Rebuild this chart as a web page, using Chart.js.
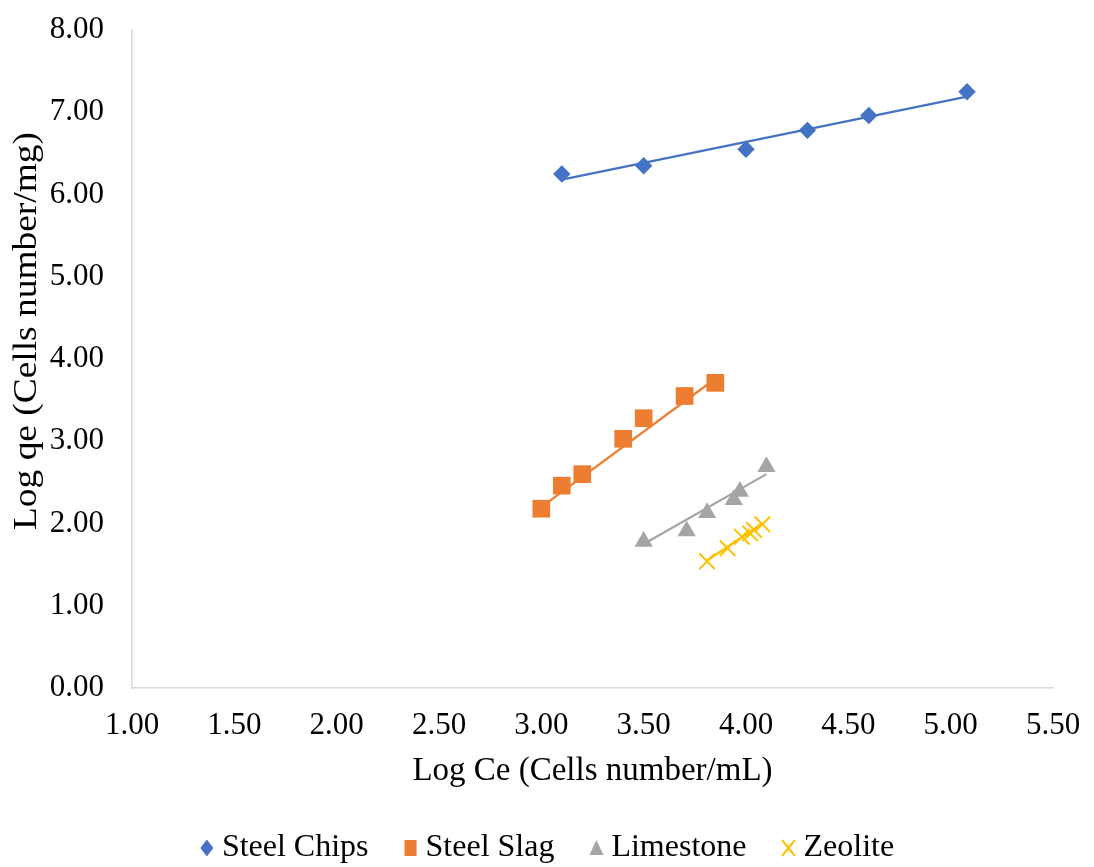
<!DOCTYPE html>
<html>
<head>
<meta charset="utf-8">
<script src="https://cdn.jsdelivr.net/npm/chart.js@4/dist/chart.umd.min.js"></script>
<style>
  html, body { margin: 0; padding: 0; background: #fff; }
  #wrap { width: 1094px; height: 867px; }
</style>
</head>
<body>
<div id="wrap"><canvas id="chart" width="1094" height="867"></canvas></div>
<script>
// Series (x = Log Ce, y = Log qe)
const chipsX = [3.10, 3.50, 4.00, 4.30, 4.60, 5.08];
const chipsY = [6.25, 6.35, 6.55, 6.78, 6.96, 7.25];

const slagX = [3.00, 3.10, 3.20, 3.40, 3.50, 3.70, 3.85];
const slagY = [2.18, 2.46, 2.60, 3.03, 3.28, 3.55, 3.71];

const limeX = [3.50, 3.71, 3.81, 3.94, 3.97, 4.10];
const limeY = [1.78, 1.91, 2.13, 2.29, 2.39, 2.69];

const zeoX = [3.81, 3.91, 3.98, 4.02, 4.04, 4.08];
const zeoY = [1.54, 1.70, 1.84, 1.88, 1.92, 1.99];

// Trendline end points as drawn in the picture
const chipsTrendX = [3.10, 5.08];
const chipsTrendY = [6.18, 7.19];
const slagTrendX = [3.00, 3.85];
const slagTrendY = [2.20, 3.76];
const limeTrendX = [3.50, 4.10];
const limeTrendY = [1.75, 2.60];
const zeoTrendX = [3.81, 4.08];
const zeoTrendY = [1.55, 2.00];

const seriesNames = ['Steel Chips', 'Steel Slag', 'Limestone', 'Zeolite'];
const colors = ['#4472C4', '#ED7D31', '#A5A5A5', '#FFC000'];
const styles = ['rectRot', 'rect', 'triangle', 'crossRot'];
const radii = [8.7, 12.5, 10.5, 11];

const xTitle = 'Log Ce (Cells number/mL)';
const yTitle = 'Log qe (Cells number/mg)';

const toPoints = (xs, ys) => xs.map((x, i) => ({ x, y: ys[i] }));

const font = 'Liberation Serif, Times New Roman, serif';

const markerSets = [
  toPoints(chipsX, chipsY),
  toPoints(slagX, slagY),
  toPoints(limeX, limeY),
  toPoints(zeoX, zeoY),
].map((pts, i) => ({
  label: seriesNames[i],
  data: pts,
  pointStyle: styles[i],
  pointRadius: radii[i],
  pointHoverRadius: radii[i],
  backgroundColor: colors[i],
  borderColor: colors[i],
  pointBorderWidth: styles[i] === 'crossRot' ? 2 : 0,
  showLine: false,
}));

const trendSets = [
  toPoints(chipsTrendX, chipsTrendY),
  toPoints(slagTrendX, slagTrendY),
  toPoints(limeTrendX, limeTrendY),
  toPoints(zeoTrendX, zeoTrendY),
].map((pts, i) => ({
  label: 'trend',
  data: pts,
  showLine: true,
  pointRadius: 0,
  borderColor: colors[i],
  borderWidth: 2.2,
  fill: false,
}));

// legend marker, slightly taller than wide like the original
function drawLegendMarker(ctx, style, color, x, y) {
  ctx.save();
  ctx.fillStyle = color;
  ctx.strokeStyle = color;
  ctx.beginPath();
  if (style === 'rectRot') {
    ctx.moveTo(x, y - 8.5);
    ctx.lineTo(x + 6.5, y);
    ctx.lineTo(x, y + 8.5);
    ctx.lineTo(x - 6.5, y);
    ctx.closePath();
    ctx.fill();
  } else if (style === 'rect') {
    ctx.rect(x - 6, y - 8, 12, 16);
    ctx.fill();
  } else if (style === 'triangle') {
    ctx.moveTo(x, y - 8);
    ctx.lineTo(x + 7, y + 7);
    ctx.lineTo(x - 7, y + 7);
    ctx.closePath();
    ctx.fill();
  } else {
    ctx.lineWidth = 2;
    ctx.moveTo(x - 6.5, y - 8);
    ctx.lineTo(x + 6.5, y + 8);
    ctx.moveTo(x + 6.5, y - 8);
    ctx.lineTo(x - 6.5, y + 8);
    ctx.stroke();
  }
  ctx.restore();
}

const extras = {
  id: 'extras',
  afterDraw(chart) {
    const ctx = chart.ctx;

    // y axis title, stretched a little along its length as in the original
    ctx.save();
    ctx.font = `33px ${font}`;
    ctx.fillStyle = '#000';
    ctx.textAlign = 'center';
    ctx.textBaseline = 'middle';
    const w = ctx.measureText(yTitle).width;
    ctx.translate(27.5, 331);
    ctx.rotate(-Math.PI / 2);
    ctx.scale(398 / w, 1);
    ctx.fillText(yTitle, 0, 0);
    ctx.restore();

    // legend along the bottom
    ctx.save();
    ctx.font = `32px ${font}`;
    ctx.fillStyle = '#000';
    ctx.textBaseline = 'middle';
    const markerToText = 15;
    const itemGap = 35;
    const widths = seriesNames.map((n) => ctx.measureText(n).width);
    const total = widths.reduce((a, b) => a + b, 0) + seriesNames.length * (7 + markerToText) + itemGap * (seriesNames.length - 1);
    let x = chart.width / 2 - total / 2;
    const y = 848;
    seriesNames.forEach((name, i) => {
      const cx = x + 7;
      drawLegendMarker(ctx, styles[i], colors[i], cx, y);
      ctx.fillText(name, cx + markerToText, y);
      x = cx + markerToText + widths[i] + itemGap;
    });
    ctx.restore();
  },
};

new Chart(document.getElementById('chart'), {
  type: 'scatter',
  data: { datasets: [...markerSets, ...trendSets] },
  plugins: [extras],
  options: {
    responsive: false,
    animation: false,
    layout: { padding: { top: 30, right: 41, left: 0, bottom: 71 } },
    plugins: {
      tooltip: { enabled: false },
      legend: { display: false },
    },
    scales: {
      x: {
        type: 'linear',
        min: 1,
        max: 5.5,
        afterFit: (scale) => {
          scale.height = 108;
          scale.paddingLeft = 0;
          scale.paddingRight = 0;
        },
        grid: { display: false, drawTicks: false },
        border: { display: true, color: '#d9d9d9', width: 1.5 },
        ticks: {
          stepSize: 0.5,
          padding: 19,
          color: '#000',
          font: { family: font, size: 31 },
          callback: (v) => v.toFixed(2),
        },
        title: {
          display: true,
          text: xTitle,
          color: '#000',
          font: { family: font, size: 33 },
          padding: { top: 0, bottom: 5 },
        },
      },
      y: {
        type: 'linear',
        min: 0,
        max: 8,
        afterFit: (scale) => {
          scale.width = 132;
          scale.paddingTop = 0;
          scale.paddingBottom = 0;
        },
        grid: { display: false, drawTicks: false },
        border: { display: true, color: '#d9d9d9', width: 1.5 },
        ticks: {
          stepSize: 1,
          padding: 28,
          color: '#000',
          font: { family: font, size: 31 },
          callback: (v) => v.toFixed(2),
        },
        title: { display: false },
      },
    },
  },
});
</script>
</body>
</html>
